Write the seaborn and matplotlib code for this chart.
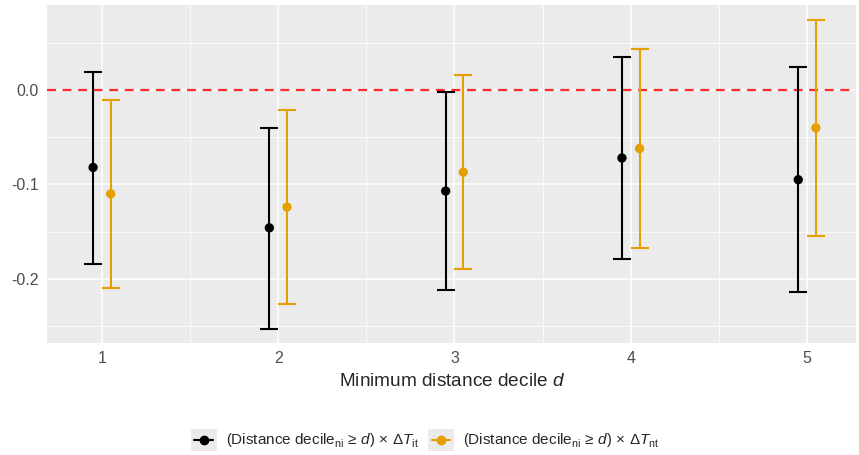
import numpy as np
import pandas as pd
import matplotlib
matplotlib.use("Agg")
import matplotlib.pyplot as plt
import seaborn as sns
from matplotlib.lines import Line2D
from matplotlib.patches import Rectangle
from matplotlib.legend_handler import HandlerBase
from matplotlib.ticker import MultipleLocator

# values
deciles = [1, 2, 3, 4, 5]
est_it = [-0.082, -0.146, -0.107, -0.072, -0.095]
lo_it = [-0.184, -0.253, -0.212, -0.179, -0.214]
hi_it = [0.019, -0.040, -0.002, 0.035, 0.024]
est_nt = [-0.110, -0.124, -0.087, -0.062, -0.040]
lo_nt = [-0.210, -0.227, -0.190, -0.167, -0.155]
hi_nt = [-0.011, -0.021, 0.016, 0.043, 0.074]

lab_it = r"$\left(\mathrm{Distance\ decile}_{\mathrm{ni}}\,\geq\,d\right)\,\times\,\Delta T_{\mathrm{it}}$"
lab_nt = r"$\left(\mathrm{Distance\ decile}_{\mathrm{ni}}\,\geq\,d\right)\,\times\,\Delta T_{\mathrm{nt}}$"

df = pd.concat([
    pd.DataFrame({"decile": deciles, "est": est_it, "lo": lo_it, "hi": hi_it, "term": "it"}),
    pd.DataFrame({"decile": deciles, "est": est_nt, "lo": lo_nt, "hi": hi_nt, "term": "nt"}),
], ignore_index=True)
dodge = {"it": -0.05, "nt": 0.05}
df["xpos"] = df["decile"] + df["term"].map(dodge)
colors = {"it": "black", "nt": "#E69F00"}


class KeyHandler(HandlerBase):
    # grey key box with a short line and a dot, like ggplot legend keys
    def create_artists(self, legend, orig_handle, xdescent, ydescent,
                       width, height, fontsize, trans):
        box = Rectangle((-xdescent, -ydescent), width, height,
                        facecolor="#EBEBEB", edgecolor="none", transform=trans)
        cy = -ydescent + height / 2
        x0 = -xdescent + width * 0.15
        x1 = -xdescent + width * 0.85
        ln = Line2D([x0, x1], [cy, cy], color=orig_handle.get_color(),
                    linewidth=1.5, transform=trans)
        dot = Line2D([(x0 + x1) / 2], [cy], color=orig_handle.get_color(),
                     marker="o", markersize=6, linestyle="none", transform=trans)
        return [box, ln, dot]


sns.set_theme(style="darkgrid", rc={
    "axes.facecolor": "#EBEBEB",
    "grid.color": "white",
    "axes.edgecolor": "#EBEBEB",
})
plt.rcParams["font.family"] = ["Liberation Sans", "DejaVu Sans"]
plt.rcParams["mathtext.fontset"] = "custom"
plt.rcParams["mathtext.rm"] = "Liberation Sans"
plt.rcParams["mathtext.it"] = "Liberation Sans:italic"
plt.rcParams["mathtext.bf"] = "Liberation Sans:bold"

fig = plt.figure(figsize=(8.59, 4.55), dpi=100)
ax = fig.add_axes([0.055, 0.246, 0.942, 0.743])

ax.axhline(0, color="#FF2A2A", linestyle=(0, (4, 3)), linewidth=1.6, zorder=2)

for term, sub in df.groupby("term"):
    ax.errorbar(sub["xpos"], sub["est"],
                yerr=[sub["est"] - sub["lo"], sub["hi"] - sub["est"]],
                fmt="none", ecolor=colors[term], elinewidth=1.5,
                capsize=6.8, capthick=1.5, zorder=3)

sns.scatterplot(data=df, x="xpos", y="est", hue="term", palette=colors,
                s=45, edgecolor="none", legend=False, ax=ax, zorder=4)

ax.set_xlim(0.69, 5.28)
ax.set_ylim(-0.268, 0.09)
ax.set_xticks(deciles)
ax.set_xticklabels([str(d) for d in deciles])
ax.xaxis.set_minor_locator(MultipleLocator(0.5))
ax.set_yticks([-0.2, -0.1, 0.0])
ax.set_yticklabels(["-0.2", "-0.1", "0.0"])
ax.yaxis.set_minor_locator(MultipleLocator(0.05))
ax.grid(which="major", color="white", linewidth=1.1)
ax.grid(which="minor", color="white", linewidth=0.55)
ax.tick_params(axis="both", which="major", length=3, color="#333333",
               labelsize=11.5, labelcolor="#4D4D4D", pad=3)
ax.tick_params(axis="both", which="minor", length=0)
ax.set_xlabel("Minimum distance decile $d$", fontsize=13.7, labelpad=5)
ax.set_ylabel("")
for s in ax.spines.values():
    s.set_visible(False)

handles = [Line2D([0], [0], color="black"), Line2D([0], [0], color="#E69F00")]
fig.legend(handles, [lab_it, lab_nt], loc="center", bbox_to_anchor=(0.495, 0.033),
           ncol=2, frameon=False, fontsize=11, handlelength=1.7, handleheight=1.9,
           handletextpad=0.6, columnspacing=0.6,
           handler_map={Line2D: KeyHandler()})

fig.savefig("out.png", dpi=100, facecolor="white")
